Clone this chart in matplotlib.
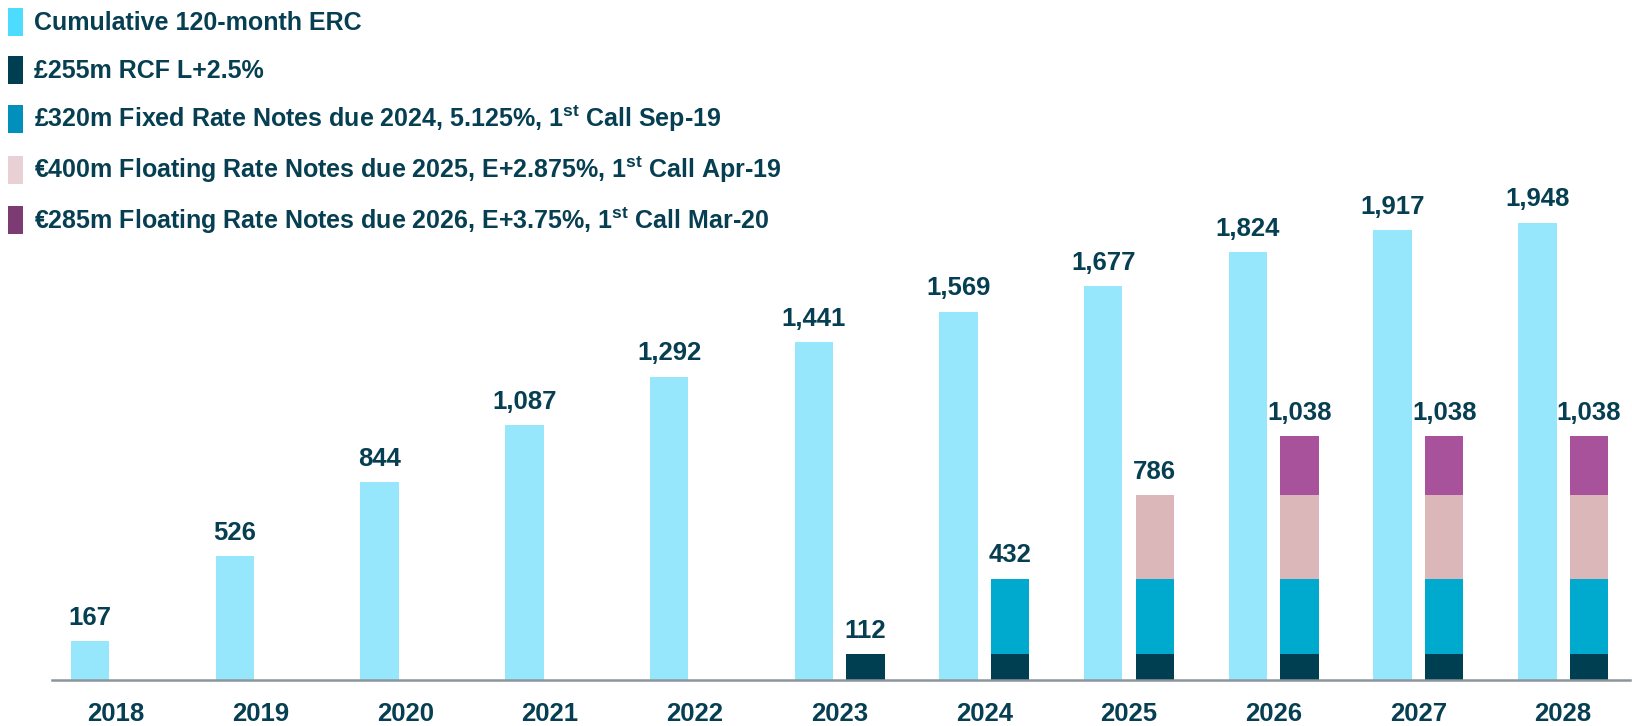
import numpy as np
import matplotlib.pyplot as plt
from matplotlib.patches import Patch

plt.rcParams['font.family'] = ['Liberation Sans', 'DejaVu Sans']
plt.rcParams['mathtext.fontset'] = 'custom'
plt.rcParams['mathtext.rm'] = 'Liberation Sans'
plt.rcParams['mathtext.bf'] = 'Liberation Sans:bold'

years = ['2018', '2019', '2020', '2021', '2022', '2023', '2024', '2025', '2026', '2027', '2028']
erc = [167, 526, 844, 1087, 1292, 1441, 1569, 1677, 1824, 1917, 1948]
rcf = [0, 0, 0, 0, 0, 112, 112, 112, 112, 112, 112]
fixed_2024 = [0, 0, 0, 0, 0, 0, 320, 320, 320, 320, 320]
frn_2025 = [0, 0, 0, 0, 0, 0, 0, 354, 354, 354, 354]
frn_2026 = [0, 0, 0, 0, 0, 0, 0, 0, 252, 252, 252]

labels = ['Cumulative 120-month ERC',
          '£255m RCF L+2.5%',
          '£320m Fixed Rate Notes due 2024, 5.125%, 1$^{\\mathbf{st}}$ Call Sep-19',
          '€400m Floating Rate Notes due 2025, E+2.875%, 1$^{\\mathbf{st}}$ Call Apr-19',
          '€285m Floating Rate Notes due 2026, E+3.75%, 1$^{\\mathbf{st}}$ Call Mar-20']

txt = '#073f52'
bar_cols = ['#96e6fc', '#003f52', '#00aacf', '#dbb7ba', '#a8529b']
leg_cols = ['#4ddbff', '#003f52', '#0090bb', '#e8d0d5', '#7c3b73']

fig = plt.figure(figsize=(16.33, 7.26), dpi=100)
ax = fig.add_axes([0.032, 0.0634, 0.966, 0.9347])

x = np.arange(len(years))
w = 0.266
off = 0.178

ax.bar(x - off, erc, w, color=bar_cols[0])
bottom = np.zeros(len(years))
for vals, c in zip([rcf, fixed_2024, frn_2025, frn_2026], bar_cols[1:]):
    vals = np.array(vals)
    ax.bar(x + off, vals, w, bottom=bottom, color=c)
    bottom += vals

for i, v in enumerate(erc):
    ax.annotate(f'{v:,}', (x[i] - off, v), xytext=(0, 8), textcoords='offset points',
                ha='center', va='bottom', fontsize=18.5, fontweight='bold', color=txt)
for i, v in enumerate(bottom):
    if v > 0:
        ax.annotate(f'{int(v):,}', (x[i] + off, v), xytext=(0, 8), textcoords='offset points',
                    ha='center', va='bottom', fontsize=18.5, fontweight='bold', color=txt)

ax.set_xlim(-0.44, 10.46)
ax.set_ylim(0, 2890)
ax.set_xticks(x)
ax.set_xticklabels(years, fontsize=18.5, fontweight='bold', color=txt)
ax.tick_params(axis='x', length=0, pad=16)
ax.set_yticks([])
for s in ['top', 'right', 'left']:
    ax.spines[s].set_visible(False)
ax.spines['bottom'].set_color('#8c959b')
ax.spines['bottom'].set_linewidth(1.8)

handles = [Patch(facecolor=c) for c in leg_cols]
leg = fig.legend(handles, labels, loc='upper left', bbox_to_anchor=(0.0, 1.0),
                 frameon=False, fontsize=18, handlelength=0.6, handleheight=1.35,
                 handletextpad=0.45, labelspacing=0.8, borderpad=0.1, borderaxespad=0.2)
for t in leg.get_texts():
    t.set_color(txt)
    t.set_fontweight('bold')

fig.savefig('out.png', dpi=100)
